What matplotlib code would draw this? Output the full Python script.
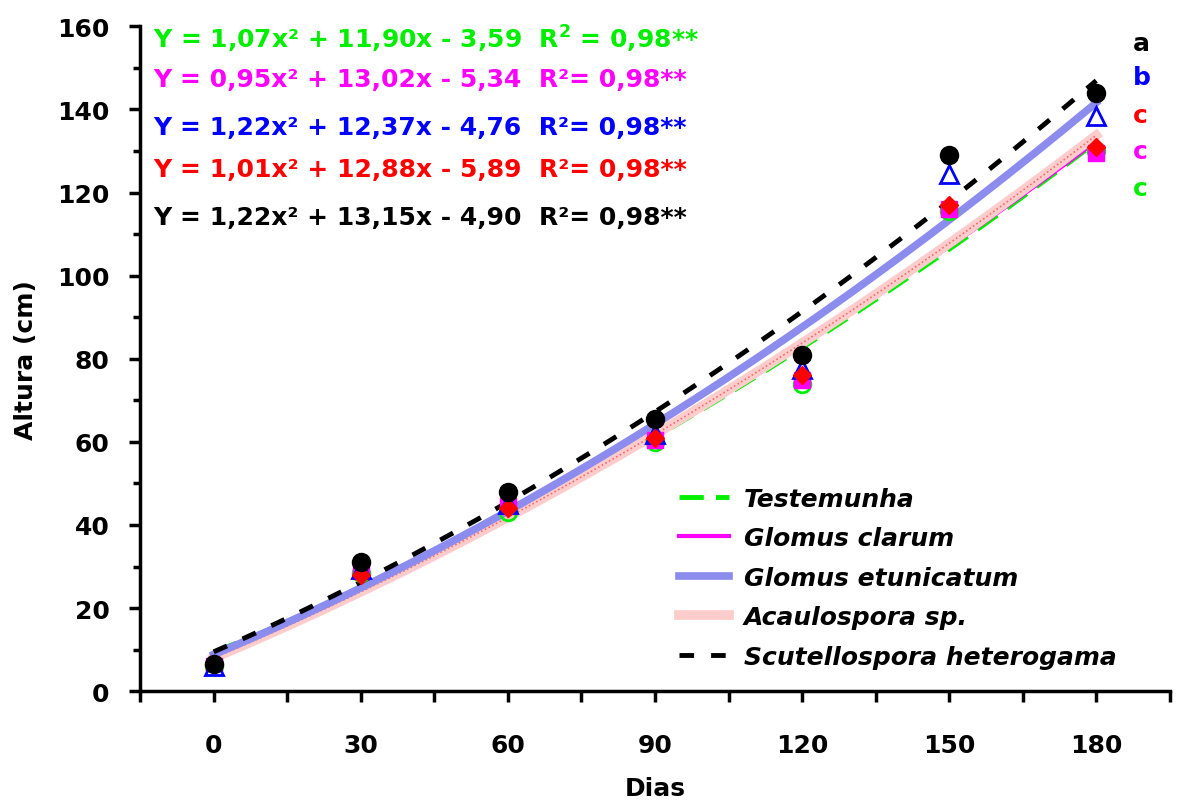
import numpy as np
import matplotlib
matplotlib.use('Agg')
import matplotlib.pyplot as plt
from matplotlib.ticker import MultipleLocator

plt.rcParams['font.family'] = ['DejaVu Sans']
plt.rcParams['font.weight'] = 'bold'
plt.rcParams['mathtext.default'] = 'bf'

dias = [0, 30, 60, 90, 120, 150, 180]

# observed means
testemunha = [6.0, 28.5, 43.0, 60.0, 74.0, 115.5, 130.0]
g_clarum = [6.0, 29.0, 44.5, 60.5, 75.0, 116.0, 129.5]
g_etunicatum = [6.0, 29.5, 45.0, 62.0, 77.5, 124.5, 138.5]
acaulospora = [6.5, 28.0, 44.0, 61.0, 76.0, 117.0, 131.0]
scutellospora = [6.5, 31.0, 48.0, 65.5, 81.0, 129.0, 144.0]

# regression coefficients (x = dias/30 + 1)
coef_test = [1.07, 11.90, -3.59]
coef_clar = [0.95, 13.02, -5.34]
coef_etun = [1.22, 12.37, -4.76]
coef_acau = [1.01, 12.88, -5.89]
coef_scut = [1.22, 13.15, -4.90]

equacoes = ['Y = 1,07x² + 11,90x - 3,59  R$^2$ = 0,98**',
            'Y = 0,95x² + 13,02x - 5,34  R²= 0,98**',
            'Y = 1,22x² + 12,37x - 4,76  R²= 0,98**',
            'Y = 1,01x² + 12,88x - 5,89  R²= 0,98**',
            'Y = 1,22x² + 13,15x - 4,90  R²= 0,98**']
letras = ['a', 'b', 'c', 'c', 'c']

fig = plt.figure(figsize=(11.78, 8.03), dpi=100)
ax = fig.add_axes([0.119, 0.138, 0.874, 0.828])

xd = np.linspace(0, 180, 200)
xr = xd / 30 + 1

# curves
ax.plot(xd, np.polyval(coef_test, xr), color='#00ee00', lw=3.5, ls=(0, (5, 2.5)), zorder=2,
        label='Testemunha')
ax.plot(xd, np.polyval(coef_clar, xr), color='#ff00ff', lw=3, zorder=2,
        label='Glomus clarum')
ax.plot(xd, np.polyval(coef_etun, xr), color='#8c8cee', lw=5.5, zorder=3,
        label='Glomus etunicatum')
ax.plot(xd, np.polyval(coef_acau, xr), color='#ffcccc', lw=7, zorder=2,
        label='Acaulospora sp.')
ax.plot(xd, np.polyval(coef_acau, xr), color='#ff6a6a', lw=1.2, ls=(0, (1, 1.5)), zorder=2)
ax.plot(xd, np.polyval(coef_scut, xr), color='black', lw=3.5, ls=(0, (3, 3.5)), zorder=4,
        label='Scutellospora heterogama')

# points
ax.plot(dias, testemunha, 'o', mfc='none', mec='#00ee00', mew=2, ms=12, zorder=5)
ax.plot(dias, g_clarum, 's', color='#ff00ff', ms=11, zorder=5)
ax.plot(dias, g_etunicatum, '^', mfc='white', mec='blue', mew=2, ms=13, zorder=6)
ax.plot(dias, acaulospora, 'D', color='red', ms=9, zorder=7)
ax.plot(dias, scutellospora, 'o', color='black', ms=13, zorder=8)

ax.set_xlim(-15, 195)
ax.set_ylim(0, 160)
ax.set_xticks(dias)
ax.xaxis.set_minor_locator(MultipleLocator(15))
ax.yaxis.set_major_locator(MultipleLocator(20))
ax.yaxis.set_minor_locator(MultipleLocator(10))
ax.spines['top'].set_visible(False)
ax.spines['right'].set_visible(False)
for s in ['left', 'bottom']:
    ax.spines[s].set_linewidth(2.5)
ax.tick_params(axis='x', which='both', length=8, width=2.5, labelsize=18, pad=22)
ax.tick_params(axis='y', which='major', length=8, width=2.5, labelsize=18, pad=14)
ax.tick_params(axis='y', which='minor', length=5, width=2.5)

ax.set_xlabel('Dias', fontsize=18, fontweight='bold', labelpad=14)
ax.set_ylabel('Altura (cm)', fontsize=18, fontweight='bold', labelpad=14)

cores = ['#00ee00', '#ff00ff', 'blue', 'red', 'black']
ys_eq = [157, 147.3, 135.7, 125.6, 114.1]
for eq, c, yv in zip(equacoes, cores, ys_eq):
    ax.text(-12.4, yv, eq, color=c, fontsize=18, fontweight='bold', va='center')

cores_l = ['black', 'blue', 'red', '#ff00ff', '#00ee00']
ys_l = [156, 147.8, 138.6, 130, 121.2]
for l, c, yv in zip(letras, cores_l, ys_l):
    ax.text(187.5, yv, l, color=c, fontsize=18, fontweight='bold', va='center')

leg = ax.legend(loc='lower right', bbox_to_anchor=(0.97, 0.0), frameon=False,
                prop={'size': 18, 'weight': 'bold', 'style': 'italic'},
                handlelength=2.0, labelspacing=0.62, handletextpad=0.6)

fig.savefig('out.png', dpi=100)
